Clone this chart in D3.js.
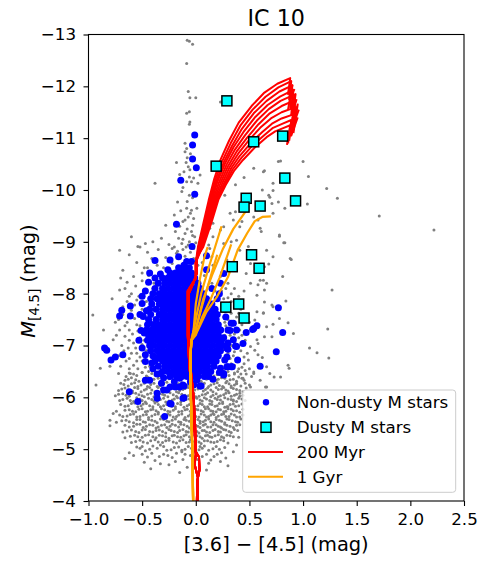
<!DOCTYPE html>
<html>
<head>
<meta charset="utf-8">
<script src="https://cdn.jsdelivr.net/npm/d3@7"></script>
<style>
body { margin: 0; background: #fff; }
text { font-family: "DejaVu Sans", sans-serif; }
</style>
</head>
<body>
<svg id="chart"></svg>
<script>
// axis ticks
var xTicks = [-1.0, -0.5, 0.0, 0.5, 1.0, 1.5, 2.0, 2.5];
var yTicks = [-13, -12, -11, -10, -9, -8, -7, -6, -5, -4];

// all sources, gray dots: [color, M4.5]
var grayPlume = [
  [-0.08,-12.89],[-0.06,-12.87],[-0.03,-12.81],[-0.085,-12.44],[-0.07,-11.9],[-0.055,-11.78],[0.0,-11.78],
  [-0.085,-11.48],[-0.06,-11.51],[-0.055,-11.31],[-0.06,-11.27],[-0.1,-10.9],[-0.085,-10.8],[-0.1,-10.74],
  [-0.18,-10.53],[-0.09,-10.53],[-0.07,-10.45],[-0.11,-10.35],[-0.055,-10.39],[-0.02,-10.23],[0.04,-10.29],
  [-0.38,-10.13],[-0.085,-10.16],[-0.04,-10.16],[0.02,-10.13],[-0.13,-9.97],[-0.06,-9.9],[-0.17,-9.77],
  [-0.2,-9.52],[-0.085,-9.65],[-0.04,-9.61],[0.01,-9.65],[-0.02,-9.45],[-0.07,-9.48],[-0.12,-9.39],
  [-0.28,-9.32],[-0.19,-9.2],[-0.1,-9.16],[-0.04,-9.2],[-0.01,-9.1],[-0.16,-9.07],[-0.32,-9.07],
  [-0.13,-8.97],[-0.07,-8.94],[-0.22,-8.87],[-0.02,-8.87],[0.13,-8.87],[-0.71,-8.84],
  [-0.15,-9.3],[-0.08,-9.25],[-0.03,-9.32],[-0.12,-9.05],[-0.06,-9.0],[0.0,-8.98],[-0.17,-8.82],
  [-0.09,-8.9],[-0.03,-9.12],[-0.1,-9.42],[-0.05,-9.55],[-0.14,-9.6],[-0.08,-9.78],[-0.03,-9.85],
  [-0.12,-10.05],[-0.06,-10.25],[-0.15,-10.3],[-0.08,-10.62],[-0.05,-10.7],[0.23,-11.7]
];

var grayRight = [
  [0.77,-10.55],[0.79,-10.56],[0.54,-10.42],[0.63,-10.35],[0.45,-10.24],[1.05,-10.26],[0.72,-10.13],
  [0.37,-10.1],[0.62,-10.0],[0.72,-9.99],[0.27,-9.9],[0.68,-9.9],[0.69,-9.86],[0.77,-9.77],[0.83,-9.65],
  [1.04,-9.73],[0.32,-9.55],[0.37,-9.58],[0.54,-9.48],[0.72,-9.55],[0.35,-9.42],[0.43,-9.39],[0.58,-9.42],
  [0.16,-9.36],[0.26,-9.29],[0.41,-9.29],[0.6,-9.26],[0.61,-9.2],[0.78,-9.13],[0.13,-9.26],[0.23,-9.23],
  [0.33,-9.0],[0.49,-8.91],[0.83,-8.98],[0.88,-8.68],[0.41,-8.84],[0.66,-8.84],[1.0,-10.55],[0.64,-10.37],
  [1.22,-10.03],[1.32,-9.84],[0.71,-9.74],[1.71,-9.5],[2.22,-9.23],[0.78,-9.11],[0.82,-8.98],[0.89,-8.66],
  [0.72,-8.71],[0.68,-8.57],[0.81,-8.33],[1.27,-8.07],[0.84,-7.86],[0.58,-8.17],[0.63,-8.26],[0.66,-8.2],
  [0.64,-7.84],[0.71,-7.78],[0.57,-7.65],[0.63,-7.62],[0.78,-7.52],[0.86,-7.44],[0.72,-7.41],[0.91,-7.23],
  [1.23,-7.32],[0.64,-7.17],[0.58,-7.04],[1.06,-6.95],[1.13,-6.86],[1.24,-6.76],[0.55,-6.91],[0.62,-6.77],
  [0.86,-6.62],[0.87,-6.56],[0.69,-6.46],[0.73,-6.39],[0.79,-6.39],[0.65,-6.2],[0.54,-6.49],
  [0.1,-9.32],[0.16,-9.1],[0.26,-8.97],[0.15,-8.71],[0.29,-8.65],[0.38,-9.03],[0.51,-8.58],[0.64,-8.52],
  [0.12,-8.94],[0.16,-8.55],[0.23,-8.33],[0.47,-8.39],[0.51,-8.2],[0.6,-8.26],[0.64,-8.07],[0.57,-7.97],
  [0.72,-7.75],[0.63,-7.63],[0.55,-7.49],[0.66,-7.36],[0.71,-7.17],[0.57,-7.11],[0.51,-6.98],[0.58,-6.82],
  [0.49,-6.72],[0.66,-6.59],[0.54,-6.46],[0.44,-6.37],[0.38,-6.27],[0.6,-6.33],[0.51,-6.2],[0.66,-6.2],
  [0.26,-7.9],[0.33,-7.85],[0.4,-7.95],[0.45,-8.05],[0.36,-8.1],[0.3,-8.2],[0.42,-7.7],[0.48,-7.6],
  [0.38,-7.55],[0.43,-7.4],[0.5,-7.45],[0.4,-7.15],[0.46,-7.1],[0.36,-7.05],[0.42,-6.9],[0.48,-6.85],
  [0.35,-6.8],[0.45,-6.65],[0.4,-6.55],[0.5,-6.55],[0.52,-6.4],[0.47,-6.45],[0.33,-6.65],[0.36,-6.45],[0.27,-6.55],
  [0.28,-8.1],[0.33,-8.0],[0.24,-8.05],[0.3,-7.92],[0.36,-7.78],[0.29,-7.75],[0.33,-7.62],[0.4,-7.62],
  [0.26,-7.55],[0.36,-7.45],[0.27,-7.45],[0.41,-7.3],[0.27,-7.2],[0.36,-7.22],[0.43,-7.2],[0.25,-7.1],
  [0.33,-7.0],[0.4,-7.0],[0.26,-6.92],[0.36,-6.88],[0.45,-6.78],[0.32,-6.75],[0.4,-6.7],[0.36,-6.62],
  [0.43,-6.58],[0.3,-6.5],[0.46,-6.52]
];

var grayLeft = [
  [-0.62,-8.75],[-0.55,-8.6],[-0.48,-8.5],[-0.41,-8.68],[-0.36,-8.55],[-0.32,-8.42],[-0.58,-8.33],
  [-0.5,-8.25],[-0.44,-8.35],[-0.39,-8.2],[-0.66,-8.1],[-0.71,-8.07],[-0.6,-8.0],[-0.53,-7.95],[-0.47,-8.08],
  [-0.64,-7.85],[-0.57,-7.78],[-0.5,-7.7],[-0.68,-7.6],[-0.75,-7.45],[-0.55,-7.4],[-0.62,-7.3],[-0.71,-7.3],
  [-0.66,-7.18],[-0.77,-7.11],[-0.58,-7.05],[-0.52,-7.15],[-0.63,-6.95],[-0.55,-6.85],[-0.72,-6.8],
  [-0.65,-6.7],[-0.58,-6.62],[-0.5,-6.7],[-0.47,-6.58],[-0.72,-6.46],[-0.61,-6.46],[-0.8,-6.6],[-0.85,-6.9],
  [-0.89,-6.56],[-0.93,-6.24],[-0.96,-7.59],[-0.8,-5.56],[-0.86,-7.3],[-0.78,-7.9],[-0.68,-8.45],
  [-0.45,-8.8],[-0.52,-8.9],[-0.47,-8.97],[-0.54,-8.91],[-0.6,-9.1],[-0.4,-9.0],[-0.35,-8.85],[-0.25,-8.95],
  [-0.3,-8.5],[-0.22,-8.58],[-0.15,-8.52],[-0.05,-8.48],[0.02,-8.55],[-0.28,-8.7],[-0.18,-8.78],[-0.1,-8.72],
  [-0.02,-8.68],[0.06,-8.6],[-0.12,-8.85],[-0.05,-8.8],[0.05,-8.9],[-0.2,-8.9],[0.08,-8.35],[0.12,-8.5],
  [0.15,-8.2],[0.18,-8.05],[0.22,-7.95],[0.25,-7.8],[0.27,-7.65],[0.3,-7.5],[0.28,-7.38],[0.32,-7.2],
  [0.3,-7.05],[0.3,-6.85],[0.27,-6.7],[0.24,-6.6],[-0.4,-8.1],[-0.46,-7.85],[-0.48,-7.6],[-0.5,-7.3],
  [-0.48,-7.1],[-0.46,-6.9],[-0.43,-6.6],[-0.38,-6.5],
  [-0.7,-8.3],[-0.64,-8.22],[-0.56,-8.15],[-0.5,-8.4],[-0.45,-8.5],[-0.62,-7.95],[-0.55,-7.88],[-0.68,-7.75],
  [-0.6,-7.68],[-0.53,-7.6],[-0.72,-7.5],[-0.64,-7.45],[-0.57,-7.52],[-0.52,-7.38],[-0.66,-7.38],[-0.59,-7.22],
  [-0.74,-7.2],[-0.54,-7.28],[-0.62,-7.1],[-0.69,-7.0],[-0.56,-6.95],[-0.5,-7.02],[-0.6,-6.85],[-0.67,-6.9],
  [-0.52,-6.78],[-0.62,-6.75],[-0.55,-6.7],[-0.7,-6.6],[-0.62,-6.55],[-0.54,-6.55],[-0.48,-6.82],[-0.5,-6.48]
];

var grayCore = [
  [-0.62,-6.47],[-0.55,-6.42],[-0.5,-6.48],[-0.46,-6.41],[-0.41,-6.46],[0.2,-6.44],[0.25,-6.48],[0.31,-6.42],
  [0.36,-6.47],[0.42,-6.45],[-0.38,-6.43],[0.17,-6.41],
  [-0.66,-6.33],[-0.6,-6.38],[-0.53,-6.31],[-0.48,-6.36],[-0.42,-6.32],[-0.35,-6.37],[-0.29,-6.34],[-0.21,-6.31],
  [-0.17,-6.38],[0.05,-6.31],[0.14,-6.36],[0.19,-6.33],[0.24,-6.38],[0.29,-6.31],[0.35,-6.35],[0.4,-6.39],[0.45,-6.33],
  [-0.7,-6.27],[-0.63,-6.22],[-0.57,-6.28],[-0.51,-6.24],[-0.45,-6.21],[-0.39,-6.27],[-0.33,-6.23],[-0.27,-6.29],
  [-0.23,-6.22],[-0.16,-6.26],[-0.09,-6.22],[-0.05,-6.28],[0.0,-6.24],[0.08,-6.27],[0.12,-6.21],[0.17,-6.26],
  [0.22,-6.23],[0.28,-6.28],[0.33,-6.22],[0.38,-6.26],[0.5,-6.24],
  [-0.72,-6.13],[-0.66,-6.18],[-0.59,-6.12],[-0.54,-6.17],[-0.48,-6.14],[-0.43,-6.19],[-0.38,-6.11],[-0.32,-6.16],
  [-0.26,-6.12],[-0.21,-6.18],[-0.15,-6.13],[-0.1,-6.17],[-0.04,-6.11],[0.02,-6.16],[0.07,-6.12],[0.11,-6.18],
  [0.16,-6.11],[0.21,-6.15],[0.26,-6.19],[0.3,-6.12],[0.35,-6.17],[0.41,-6.13],[0.47,-6.18],
  [-0.75,-6.03],[-0.68,-6.07],[-0.62,-6.02],[-0.56,-6.08],[-0.5,-6.03],[-0.45,-6.06],[-0.39,-6.01],[-0.34,-6.07],
  [-0.29,-6.04],[-0.24,-6.09],[-0.18,-6.02],[-0.13,-6.06],[-0.07,-6.03],[-0.02,-6.08],[0.03,-6.02],[0.09,-6.06],
  [0.14,-6.01],[0.19,-6.07],[0.23,-6.03],[0.28,-6.08],[0.33,-6.02],[0.38,-6.06],[0.44,-6.04],
  [-0.71,-5.94],[-0.64,-5.98],[-0.58,-5.92],[-0.52,-5.97],[-0.47,-5.91],[-0.41,-5.96],[-0.36,-5.92],[-0.3,-5.98],
  [-0.25,-5.93],[-0.2,-5.97],[-0.14,-5.91],[-0.09,-5.96],[-0.04,-5.92],[0.01,-5.98],[0.06,-5.93],[0.1,-5.97],
  [0.15,-5.92],[0.2,-5.96],[0.25,-5.91],[0.3,-5.97],[0.35,-5.93],[0.4,-5.98],[0.46,-5.94],
  [-0.66,-5.83],[-0.6,-5.88],[-0.54,-5.82],[-0.49,-5.87],[-0.43,-5.84],[-0.38,-5.89],[-0.33,-5.82],[-0.27,-5.86],
  [-0.22,-5.83],[-0.17,-5.88],[-0.11,-5.81],[-0.06,-5.86],[-0.01,-5.83],[0.04,-5.88],[0.08,-5.82],[0.13,-5.87],
  [0.18,-5.83],[0.22,-5.88],[0.27,-5.81],[0.32,-5.86],[0.37,-5.83],[0.43,-5.87],
  [-0.74,-5.73],[-0.62,-5.76],[-0.56,-5.72],[-0.5,-5.78],[-0.45,-5.73],[-0.4,-5.77],[-0.35,-5.71],[-0.29,-5.76],
  [-0.24,-5.72],[-0.19,-5.78],[-0.13,-5.73],[-0.08,-5.77],[-0.03,-5.71],[0.02,-5.76],[0.07,-5.72],[0.12,-5.78],
  [0.16,-5.73],[0.21,-5.77],[0.26,-5.72],[0.3,-5.78],[0.35,-5.74],[0.41,-5.71],
  [-0.77,-5.69],[-0.68,-5.63],[-0.61,-5.67],[-0.55,-5.62],[-0.49,-5.66],[-0.44,-5.61],[-0.38,-5.67],[-0.32,-5.63],
  [-0.26,-5.68],[-0.21,-5.62],[-0.16,-5.66],[-0.1,-5.61],[-0.05,-5.67],[0.0,-5.63],[0.05,-5.68],[0.1,-5.62],
  [0.14,-5.66],[0.19,-5.61],[0.24,-5.67],[0.28,-5.63],[0.33,-5.68],[0.38,-5.62],[0.44,-5.66],
  [-0.74,-5.52],[-0.65,-5.56],[-0.58,-5.51],[-0.52,-5.57],[-0.47,-5.52],[-0.41,-5.56],[-0.36,-5.51],[-0.3,-5.57],
  [-0.25,-5.53],[-0.19,-5.58],[-0.14,-5.52],[-0.09,-5.56],[-0.03,-5.51],[0.02,-5.57],[0.07,-5.53],[0.12,-5.58],
  [0.17,-5.52],[0.22,-5.56],[0.27,-5.51],[0.31,-5.57],[0.37,-5.53],[0.42,-5.58],
  [-0.8,-5.45],[-0.62,-5.43],[-0.55,-5.48],[-0.49,-5.42],[-0.43,-5.47],[-0.37,-5.41],[-0.32,-5.46],[-0.27,-5.42],
  [-0.22,-5.48],[-0.16,-5.43],[-0.11,-5.47],[-0.06,-5.41],[0.0,-5.46],[0.04,-5.42],[0.09,-5.48],[0.14,-5.43],
  [0.19,-5.47],[0.24,-5.41],[0.29,-5.46],[0.35,-5.42],[0.41,-5.47],
  [-0.68,-5.33],[-0.6,-5.37],[-0.53,-5.32],[-0.47,-5.38],[-0.4,-5.33],[-0.34,-5.37],[-0.28,-5.31],[-0.23,-5.36],
  [-0.17,-5.32],[-0.12,-5.38],[-0.07,-5.33],[-0.02,-5.37],[0.03,-5.31],[0.08,-5.36],[0.13,-5.32],[0.18,-5.38],
  [0.23,-5.33],[0.28,-5.37],[0.33,-5.32],[0.39,-5.36],
  [-0.66,-5.22],[-0.57,-5.27],[-0.5,-5.23],[-0.44,-5.28],[-0.37,-5.22],[-0.31,-5.26],[-0.25,-5.21],[-0.2,-5.27],
  [-0.14,-5.23],[-0.09,-5.28],[-0.04,-5.22],[0.01,-5.26],[0.06,-5.21],[0.11,-5.27],[0.15,-5.23],[0.21,-5.28],
  [0.26,-5.22],[0.32,-5.26],[0.4,-5.23],
  [-0.6,-5.13],[-0.52,-5.17],[-0.45,-5.12],[-0.38,-5.18],[-0.31,-5.13],[-0.25,-5.17],[-0.18,-5.12],[-0.12,-5.18],
  [-0.06,-5.14],[0.0,-5.17],[0.05,-5.11],[0.11,-5.16],[0.17,-5.13],[0.23,-5.18],[0.3,-5.12],[0.38,-5.08],
  [-0.55,-5.04],[-0.47,-4.97],[-0.4,-5.06],[-0.33,-5.08],[-0.27,-4.98],[-0.2,-5.03],[-0.13,-4.95],[-0.07,-5.05],
  [0.03,-4.99],[0.08,-5.06],[0.16,-5.01],[0.22,-5.0],[-0.52,-5.02],
  [-0.66,-4.82],[-0.58,-4.88],[-0.45,-4.85],[-0.38,-4.78],[-0.3,-4.9],[-0.22,-4.84],[-0.12,-4.8],[-0.05,-4.88],
  [0.06,-4.86],[0.14,-4.79],[0.2,-4.9],[0.28,-4.83],[-0.25,-4.7],[-0.02,-4.72],[0.1,-4.6],[-0.42,-4.62],
  [0.35,-4.95],[-0.15,-4.55],
  [0.41,-6.08],[0.35,-5.95],[0.29,-5.82],[0.16,-5.69],[0.04,-5.5],[0.23,-5.43],[-0.05,-5.18],[0.04,-5.05],[-0.13,-4.98]
];

var grayCore2 = [
  [-0.58,-6.45],[-0.44,-6.5],[0.22,-6.5],[0.28,-6.45],[0.39,-6.5],[-0.65,-6.4],
  [-0.63,-6.35],[-0.56,-6.34],[-0.45,-6.39],[-0.39,-6.35],[-0.32,-6.4],[-0.25,-6.36],[0.1,-6.35],[0.17,-6.39],
  [0.21,-6.35],[0.27,-6.37],[0.32,-6.34],[0.38,-6.31],[0.43,-6.37],
  [-0.67,-6.25],[-0.6,-6.26],[-0.54,-6.21],[-0.48,-6.27],[-0.42,-6.25],[-0.36,-6.21],[-0.3,-6.26],[-0.2,-6.25],
  [-0.13,-6.28],[-0.07,-6.25],[0.03,-6.21],[0.06,-6.26],[0.14,-6.24],[0.2,-6.28],[0.25,-6.21],[0.31,-6.26],
  [0.36,-6.24],[0.42,-6.22],[0.46,-6.27],
  [-0.69,-6.16],[-0.63,-6.14],[-0.57,-6.19],[-0.51,-6.11],[-0.46,-6.16],[-0.41,-6.14],[-0.35,-6.19],[-0.29,-6.14],
  [-0.24,-6.16],[-0.18,-6.11],[-0.12,-6.15],[-0.07,-6.19],[-0.01,-6.14],[0.04,-6.18],[0.09,-6.15],[0.14,-6.14],
  [0.19,-6.19],[0.24,-6.16],[0.28,-6.14],[0.33,-6.19],[0.38,-6.15],[0.44,-6.11],
  [-0.72,-6.06],[-0.65,-6.04],[-0.59,-6.09],[-0.53,-6.05],[-0.48,-6.01],[-0.42,-6.08],[-0.37,-6.04],[-0.31,-6.06],
  [-0.26,-6.01],[-0.21,-6.05],[-0.16,-6.09],[-0.1,-6.04],[-0.05,-6.06],[0.0,-6.01],[0.06,-6.05],[0.11,-6.09],
  [0.16,-6.04],[0.21,-6.01],[0.26,-6.05],[0.31,-6.09],[0.36,-6.04],[0.41,-6.02],
  [-0.68,-5.96],[-0.61,-5.94],[-0.55,-5.99],[-0.5,-5.94],[-0.44,-5.98],[-0.39,-5.93],[-0.33,-5.96],[-0.28,-5.91],
  [-0.22,-5.95],[-0.17,-5.99],[-0.11,-5.94],[-0.06,-5.97],[-0.02,-5.91],[0.04,-5.95],[0.08,-5.99],[0.13,-5.94],
  [0.18,-5.98],[0.23,-5.95],[0.27,-5.99],[0.33,-5.96],[0.38,-5.92],[0.43,-5.97],
  [-0.7,-5.86],[-0.63,-5.84],[-0.57,-5.89],[-0.51,-5.84],[-0.46,-5.88],[-0.4,-5.82],[-0.35,-5.86],[-0.3,-5.84],
  [-0.24,-5.88],[-0.19,-5.82],[-0.14,-5.86],[-0.08,-5.84],[-0.03,-5.88],[0.02,-5.84],[0.06,-5.86],[0.11,-5.82],
  [0.15,-5.86],[0.2,-5.84],[0.25,-5.88],[0.3,-5.82],[0.35,-5.87],[0.4,-5.84],
  [-0.66,-5.75],[-0.59,-5.73],[-0.53,-5.77],[-0.47,-5.72],[-0.42,-5.76],[-0.37,-5.74],[-0.32,-5.78],[-0.26,-5.73],
  [-0.21,-5.75],[-0.16,-5.72],[-0.1,-5.76],[-0.05,-5.73],[0.0,-5.77],[0.05,-5.74],[0.09,-5.78],[0.14,-5.74],
  [0.19,-5.72],[0.23,-5.76],[0.28,-5.73],[0.33,-5.77],[0.38,-5.74],[0.44,-5.77],
  [-0.71,-5.66],[-0.64,-5.64],[-0.58,-5.68],[-0.52,-5.63],[-0.46,-5.67],[-0.41,-5.64],[-0.35,-5.68],[-0.29,-5.62],
  [-0.24,-5.66],[-0.18,-5.63],[-0.13,-5.68],[-0.07,-5.64],[-0.02,-5.66],[0.03,-5.62],[0.08,-5.66],[0.12,-5.63],
  [0.17,-5.67],[0.21,-5.64],[0.26,-5.68],[0.31,-5.63],[0.36,-5.66],[0.41,-5.62],
  [-0.69,-5.55],[-0.62,-5.53],[-0.55,-5.57],[-0.49,-5.53],[-0.44,-5.57],[-0.38,-5.54],[-0.33,-5.58],[-0.27,-5.54],
  [-0.22,-5.56],[-0.16,-5.53],[-0.11,-5.57],[-0.06,-5.54],[-0.01,-5.58],[0.04,-5.54],[0.09,-5.56],[0.14,-5.53],
  [0.19,-5.57],[0.24,-5.54],[0.29,-5.58],[0.34,-5.55],[0.39,-5.52],
  [-0.66,-5.46],[-0.58,-5.44],[-0.52,-5.48],[-0.46,-5.44],[-0.4,-5.46],[-0.35,-5.43],[-0.29,-5.47],[-0.24,-5.44],
  [-0.19,-5.46],[-0.14,-5.48],[-0.08,-5.44],[-0.03,-5.47],[0.02,-5.44],[0.07,-5.46],[0.11,-5.43],[0.16,-5.47],
  [0.21,-5.44],[0.27,-5.48],[0.32,-5.44],[0.38,-5.46],
  [-0.64,-5.35],[-0.56,-5.34],[-0.5,-5.37],[-0.43,-5.34],[-0.37,-5.36],[-0.31,-5.34],[-0.25,-5.38],[-0.2,-5.34],
  [-0.15,-5.36],[-0.09,-5.34],[-0.04,-5.37],[0.01,-5.34],[0.06,-5.36],[0.1,-5.33],[0.16,-5.36],[0.21,-5.34],
  [0.26,-5.38],[0.31,-5.34],[0.36,-5.38],
  [-0.61,-5.25],[-0.54,-5.24],[-0.47,-5.27],[-0.4,-5.24],[-0.34,-5.27],[-0.28,-5.24],[-0.22,-5.26],[-0.17,-5.24],
  [-0.11,-5.26],[-0.06,-5.24],[-0.01,-5.27],[0.04,-5.24],[0.09,-5.26],[0.13,-5.24],[0.18,-5.26],[0.24,-5.24],
  [0.29,-5.27],[0.35,-5.24],
  [-0.56,-5.15],[-0.49,-5.14],[-0.42,-5.16],[-0.35,-5.14],[-0.28,-5.16],[-0.21,-5.14],[-0.15,-5.16],[-0.09,-5.13],
  [-0.03,-5.15],[0.03,-5.14],[0.08,-5.16],[0.14,-5.14],[0.2,-5.15],[0.26,-5.16],
  [-0.5,-5.05],[-0.43,-5.0],[-0.36,-5.02],[-0.3,-5.05],[-0.23,-4.99],[-0.16,-5.04],[-0.1,-5.0],[-0.04,-5.02],
  [0.0,-4.96],[0.06,-5.02],[0.12,-4.98],[0.19,-5.05],[0.27,-5.03],
  [-0.62,-4.93],[-0.5,-4.9],[-0.41,-4.92],[-0.34,-4.86],[-0.26,-4.88],[-0.18,-4.92],[-0.1,-4.9],[0.0,-4.93],
  [0.1,-4.9],[0.17,-4.86],[0.24,-4.93],[-0.48,-4.75],[-0.33,-4.72],[-0.19,-4.76],[0.02,-4.8],[0.12,-4.73],
  [0.23,-4.76],[-0.08,-4.65],[0.3,-4.68]
];

// non-dusty M stars, dense core given as rows: [M4.5, colours...]
var blueCoreRows = [
  [-8.5, -0.16,-0.11,-0.06],
  [-8.4, -0.24,-0.19,-0.14,-0.09,-0.04],
  [-8.3, -0.31,-0.26,-0.21,-0.16,-0.11,-0.06,-0.01],
  [-8.2, -0.35,-0.29,-0.24,-0.19,-0.14,-0.09,-0.04,0.02],
  [-8.1, -0.38,-0.31,-0.26,-0.21,-0.16,-0.11,-0.06,-0.01,0.04],
  [-8.0, -0.40,-0.34,-0.29,-0.24,-0.19,-0.14,-0.09,-0.04,0.01,0.07],
  [-7.9, -0.42,-0.36,-0.31,-0.26,-0.21,-0.16,-0.11,-0.06,-0.01,0.04,0.1],
  [-7.8, -0.41,-0.34,-0.29,-0.24,-0.19,-0.14,-0.09,-0.04,0.01,0.06,0.11,0.15],
  [-7.7, -0.43,-0.37,-0.31,-0.26,-0.21,-0.16,-0.11,-0.06,-0.01,0.04,0.09,0.14,0.18],
  [-7.6, -0.42,-0.34,-0.29,-0.24,-0.19,-0.14,-0.09,-0.04,0.01,0.06,0.11,0.16,0.2],
  [-7.5, -0.44,-0.37,-0.31,-0.26,-0.21,-0.16,-0.11,-0.06,-0.01,0.04,0.09,0.14,0.19],
  [-7.4, -0.45,-0.39,-0.34,-0.29,-0.24,-0.19,-0.14,-0.09,-0.04,0.01,0.06,0.11,0.16,0.21],
  [-7.3, -0.46,-0.41,-0.36,-0.31,-0.26,-0.21,-0.16,-0.11,-0.06,-0.01,0.04,0.09,0.14,0.19,0.23],
  [-7.2, -0.44,-0.39,-0.34,-0.29,-0.24,-0.19,-0.14,-0.09,-0.04,0.01,0.06,0.11,0.16,0.21],
  [-7.1, -0.45,-0.41,-0.36,-0.31,-0.26,-0.21,-0.16,-0.11,-0.06,-0.01,0.04,0.09,0.14,0.19,0.24],
  [-7.0, -0.43,-0.39,-0.34,-0.29,-0.24,-0.19,-0.14,-0.09,-0.04,0.01,0.06,0.11,0.16,0.21,0.25],
  [-6.9, -0.42,-0.36,-0.31,-0.26,-0.21,-0.16,-0.11,-0.06,-0.01,0.04,0.09,0.14,0.19,0.23],
  [-6.8, -0.40,-0.34,-0.29,-0.24,-0.19,-0.14,-0.09,-0.04,0.01,0.06,0.11,0.16,0.21],
  [-6.7, -0.38,-0.31,-0.26,-0.21,-0.16,-0.11,-0.06,-0.01,0.04,0.09,0.14,0.19],
  [-6.6, -0.35,-0.29,-0.24,-0.19,-0.14,-0.09,-0.04,0.01,0.06,0.11,0.17],
  [-6.5, -0.31,-0.26,-0.21,-0.16,-0.11,-0.06,-0.01,0.04,0.09,0.14],
  [-6.4, -0.24,-0.18,-0.13,-0.08,-0.03,0.02,0.08]
];

var blueStars = [
  [-0.01,-11.06],[-0.03,-10.87],[-0.03,-10.6],[0.005,-10.43],[-0.14,-10.19],[-0.01,-9.92],[-0.18,-9.34],
  [-0.035,-8.91],[-0.38,-8.64],[-0.24,-8.65],[-0.16,-8.71],[-0.085,-8.62],[-0.04,-8.62],[0.1,-8.73],
  [-0.11,-8.55],[-0.43,-8.4],[-0.26,-8.46],[-0.15,-8.42],[0.1,-8.46],[0.26,-8.39],
  [-0.85,-6.95],[-0.83,-6.91],[-0.79,-6.72],[-0.75,-6.78],[-0.68,-6.82],[-0.69,-7.68],[-0.61,-7.76],
  [-0.71,-7.57],[-0.61,-7.57],[-0.5,-7.81],[-0.46,-7.67],[-0.49,-7.56],[-0.43,-7.43],[-0.51,-7.29],
  [-0.48,-7.24],[-0.41,-7.25],[-0.43,-7.11],[-0.47,-6.69],[-0.41,-6.66],[-0.36,-6.75],
  [-0.62,-6.11],[-0.54,-5.92],[-0.47,-6.33],[-0.43,-6.33],[-0.36,-6.08],[-0.36,-5.98],[-0.29,-5.63],
  [-0.24,-5.88],[-0.27,-6.14],[-0.15,-6.2],[-0.02,-6.24],[-0.32,-6.27],[-0.24,-6.2],[-0.33,-6.46],
  [-0.3,-6.14],[-0.22,-6.45],[-0.19,-6.2],[-0.23,-5.87],[-0.12,-5.98],[-0.12,-6.24],[-0.15,-6.37],
  [-0.01,-6.43],[0.01,-6.33],[0.05,-6.22],[0.1,-6.46],[0.12,-6.4],[0.26,-6.43],[0.04,-6.22],[-0.11,-6.22],[-0.11,-5.99],
  [0.29,-6.78],[0.29,-6.59],[0.33,-6.59],[0.26,-6.46],[0.38,-6.98],[0.29,-6.95],[0.35,-7.11],[0.3,-7.3],
  [0.38,-7.3],[0.33,-7.43],[0.44,-7.04],[0.54,-7.33],[0.6,-6.6],[0.75,-6.88],[0.77,-7.73],[0.81,-7.25],
  [0.57,-7.38],[0.53,-7.31],[0.47,-7.25],[0.32,-7.29],[0.37,-6.99],[0.3,-6.93],[0.39,-6.72],[0.3,-6.59],
  [0.34,-6.59],[0.23,-6.56],[0.35,-7.43],[0.23,-7.3],[0.23,-8.2],[0.15,-8.1],[0.2,-7.9],
  [-0.47,-8.05],[-0.44,-8.22],[-0.38,-8.3],[-0.33,-8.38],[-0.5,-7.95],[-0.52,-7.6],[-0.53,-7.1],[-0.5,-6.95],
  [-0.47,-6.82],[-0.4,-6.55],[-0.36,-6.45],[0.28,-7.55],[0.27,-7.7],[0.22,-8.0],[0.26,-7.15],[0.3,-7.05],
  [0.27,-6.72],[0.22,-6.48],[0.16,-6.35],[-0.05,-6.3],[-0.2,-6.3],[-0.3,-6.38]
];

// dusty M stars
var dustyStars = [
  [0.29,-11.72],[0.54,-10.93],[0.81,-11.04],[0.19,-10.46],[0.47,-9.84],[0.45,-9.67],[0.6,-9.69],
  [0.83,-10.23],[0.93,-9.79],[0.52,-8.75],[0.34,-8.52],[0.59,-8.49],[0.4,-7.8],[0.28,-7.74],[0.45,-7.53]
];

// 200 Myr isochrones: shared lower branch + upper tracks
var redBase = [[0.01,-4.0],[0.015,-4.4],[0.035,-4.6],[0.03,-4.85],[0.0,-4.95],[-0.01,-5.3],[-0.03,-6.0],
  [-0.06,-6.6],[-0.075,-7.2],[-0.075,-8.05],[-0.03,-8.2],[0.0,-8.3],[0.0,-8.6]];
var redBase2 = [[0.02,-4.0],[0.02,-4.45],[-0.01,-4.7],[0.0,-4.9],[-0.005,-5.4],[-0.02,-6.0],
  [-0.05,-6.6],[-0.065,-7.3],[-0.065,-8.0],[-0.02,-8.22],[0.01,-8.4],[0.01,-8.7]];
var redTracks = [
  [[0.02,-8.9],[0.075,-9.4],[0.12,-9.8],[0.17,-10.2],[0.23,-10.58],[0.31,-10.95],[0.4,-11.3],[0.52,-11.62],[0.64,-11.88],[0.76,-12.05],[0.88,-12.16],[0.86,-11.85],[0.9,-12.02],[0.86,-11.55]],
  [[0.025,-8.9],[0.085,-9.4],[0.13,-9.8],[0.18,-10.18],[0.245,-10.55],[0.325,-10.9],[0.415,-11.24],[0.53,-11.55],[0.65,-11.8],[0.77,-11.98],[0.89,-12.1],[0.87,-11.75],[0.92,-11.95]],
  [[0.03,-8.9],[0.095,-9.4],[0.14,-9.8],[0.19,-10.16],[0.26,-10.53],[0.34,-10.86],[0.43,-11.18],[0.54,-11.48],[0.66,-11.72],[0.78,-11.9],[0.9,-12.02],[0.88,-11.6],[0.93,-11.85],[0.9,-11.35]],
  [[0.035,-8.9],[0.1,-9.4],[0.15,-9.8],[0.2,-10.15],[0.27,-10.5],[0.35,-10.82],[0.445,-11.12],[0.555,-11.41],[0.67,-11.64],[0.785,-11.8],[0.91,-11.93],[0.89,-11.45],[0.94,-11.75]],
  [[0.04,-8.9],[0.11,-9.4],[0.16,-9.8],[0.215,-10.14],[0.285,-10.48],[0.365,-10.78],[0.46,-11.06],[0.57,-11.34],[0.68,-11.56],[0.79,-11.72],[0.92,-11.84],[0.9,-11.3],[0.95,-11.65],[0.91,-11.1]],
  [[0.045,-8.9],[0.12,-9.4],[0.17,-9.8],[0.23,-10.13],[0.3,-10.46],[0.38,-10.74],[0.475,-11.0],[0.585,-11.27],[0.69,-11.48],[0.8,-11.62],[0.93,-11.74],[0.9,-11.2],[0.96,-11.55]],
  [[0.05,-8.9],[0.13,-9.4],[0.18,-9.8],[0.245,-10.12],[0.315,-10.44],[0.395,-10.7],[0.49,-10.95],[0.6,-11.2],[0.7,-11.38],[0.8,-11.5],[0.93,-11.6],[0.89,-11.05],[0.95,-11.4]],
  [[0.055,-8.9],[0.135,-9.4],[0.19,-9.8],[0.26,-10.11],[0.33,-10.42],[0.41,-10.66],[0.51,-10.9],[0.62,-11.12],[0.71,-11.28],[0.8,-11.38],[0.91,-11.46],[0.87,-10.95]],
  [[0.06,-8.9],[0.14,-9.4],[0.2,-9.8],[0.27,-10.1],[0.345,-10.4],[0.425,-10.62],[0.53,-10.86],[0.64,-11.06],[0.72,-11.2],[0.81,-11.28],[0.89,-11.35],[0.86,-10.9]],
  [[0.07,-8.9],[0.15,-9.4],[0.21,-9.81],[0.28,-10.1],[0.36,-10.38],[0.44,-10.58],[0.55,-10.82],[0.66,-11.02],[0.74,-11.13],[0.82,-11.2],[0.88,-11.25],[0.85,-10.87]]
];

// 1 Gyr isochrones
var orangeBase = [[-0.025,-4.0],[-0.03,-4.8],[-0.04,-5.6],[-0.05,-6.3],[-0.05,-6.8],[-0.04,-7.1]];
var orangeTracks = [
  [[0.0,-7.5],[0.05,-8.0],[0.12,-8.5],[0.18,-8.9],[0.24,-9.3]],
  [[0.01,-7.4],[0.07,-7.9],[0.15,-8.35],[0.25,-8.85],[0.35,-9.25],[0.47,-9.6]],
  [[0.02,-7.3],[0.1,-7.65],[0.2,-7.95],[0.3,-8.32],[0.39,-8.84],[0.48,-9.17],[0.55,-9.4],[0.62,-9.48],[0.7,-9.49]],
  [[0.0,-7.3],[0.05,-7.7],[0.12,-8.2],[0.17,-8.55],[0.2,-8.75]],
  [[-0.02,-7.3],[0.0,-7.8],[0.04,-8.3],[0.08,-8.7],[0.11,-8.9]],
  [[0.0,-7.2],[0.06,-7.55],[0.14,-7.9],[0.22,-8.3],[0.28,-8.65],[0.33,-8.95]]
];

var legendLabels = ["Non-dusty M stars", "Dusty M stars", "200 Myr", "1 Gyr"];

var svgwidth = 479, svgheight = 561;
var plot = { left: 88.5, right: 464, top: 34.5, bottom: 501 };

var svg = d3.select("#chart")
  .attr("width", svgwidth)
  .attr("height", svgheight);

var x = d3.scaleLinear().domain([-1.0, 2.5]).range([plot.left, plot.right]);
var y = d3.scaleLinear().domain([-13, -4]).range([plot.top, plot.bottom]);

var gray = grayPlume.concat(grayRight, grayLeft, grayCore, grayCore2);
var blue = [];
blueCoreRows.forEach(function (r) {
  r.slice(1).forEach(function (c) { blue.push([c, r[0]]); });
});
blue = blue.concat(blueStars);

var g = svg.append("g");

g.selectAll("circle.gray")
  .data(gray)
  .enter()
  .append("circle")
  .attr("class", "gray")
  .attr("cx", function (d) { return x(d[0]); })
  .attr("cy", function (d) { return y(d[1]); })
  .attr("r", 1.5)
  .attr("fill", "#808080");

g.selectAll("circle.blue")
  .data(blue)
  .enter()
  .append("circle")
  .attr("class", "blue")
  .attr("cx", function (d) { return x(d[0]); })
  .attr("cy", function (d) { return y(d[1]); })
  .attr("r", 3.5)
  .attr("fill", "#0000ff");

var line = d3.line()
  .x(function (d) { return x(d[0]); })
  .y(function (d) { return y(d[1]); });

redTracks.forEach(function (t, i) {
  g.append("path")
    .attr("d", line((i % 2 ? redBase2 : redBase).concat(t)))
    .attr("fill", "none")
    .attr("stroke", "#ff0000")
    .attr("stroke-width", 2)
    .attr("stroke-linejoin", "round");
});

orangeTracks.forEach(function (t) {
  g.append("path")
    .attr("d", line(orangeBase.concat(t)))
    .attr("fill", "none")
    .attr("stroke", "#ffa500")
    .attr("stroke-width", 2.2)
    .attr("stroke-linejoin", "round");
});

g.selectAll("rect.dusty")
  .data(dustyStars)
  .enter()
  .append("rect")
  .attr("class", "dusty")
  .attr("x", function (d) { return x(d[0]) - 5; })
  .attr("y", function (d) { return y(d[1]) - 5; })
  .attr("width", 10)
  .attr("height", 10)
  .attr("fill", "#00ffff")
  .attr("stroke", "#000")
  .attr("stroke-width", 1.5);

// axes
var xAxis = svg.append("g")
  .attr("transform", "translate(0," + plot.bottom + ")")
  .call(d3.axisBottom(x).tickValues(xTicks).tickFormat(d3.format(".1f")).tickSize(5).tickPadding(7));
var yAxis = svg.append("g")
  .attr("transform", "translate(" + plot.left + ",0)")
  .call(d3.axisLeft(y).tickValues(yTicks).tickFormat(d3.format("d")).tickSize(5).tickPadding(7.5));
[xAxis, yAxis].forEach(function (a) {
  a.select(".domain").remove();
  a.selectAll("line").attr("stroke", "#000").attr("stroke-width", 1.1);
  a.selectAll("text").attr("font-size", 16.7).attr("fill", "#000")
    .style("font-family", "DejaVu Sans, sans-serif");
});

svg.append("rect")
  .attr("x", plot.left).attr("y", plot.top)
  .attr("width", plot.right - plot.left).attr("height", plot.bottom - plot.top)
  .attr("fill", "none").attr("stroke", "#000").attr("stroke-width", 1.1);

// title and labels
svg.append("text")
  .attr("x", (plot.left + plot.right) / 2).attr("y", 25.5)
  .attr("text-anchor", "middle").attr("font-size", 22.2)
  .text("IC 10");

svg.append("text")
  .attr("x", (plot.left + plot.right) / 2).attr("y", 551)
  .attr("text-anchor", "middle").attr("font-size", 19.4)
  .text("[3.6] \u2212 [4.5] (mag)");

var yl = svg.append("text")
  .attr("transform", "translate(35,281) rotate(-90)")
  .attr("text-anchor", "middle").attr("font-size", 19.4);
yl.append("tspan").attr("font-style", "italic").text("M");
yl.append("tspan").attr("font-size", 13.6).attr("dy", 4).text("[4.5]");
yl.append("tspan").attr("dy", -4).text(" (mag)");

// legend
var lg = svg.append("g");
lg.append("rect")
  .attr("x", 242.7).attr("y", 390).attr("width", 213).attr("height", 102.3)
  .attr("rx", 3).attr("fill", "#fff").attr("fill-opacity", 0.8)
  .attr("stroke", "#cccccc").attr("stroke-width", 1);
var rowY = [402.3, 427.3, 452, 476.7];
lg.append("circle").attr("cx", 266).attr("cy", rowY[0]).attr("r", 3.2).attr("fill", "#0000ff");
lg.append("rect").attr("x", 261).attr("y", rowY[1] - 5).attr("width", 10).attr("height", 10)
  .attr("fill", "#00ffff").attr("stroke", "#000").attr("stroke-width", 1.5);
lg.append("line").attr("x1", 248).attr("x2", 283).attr("y1", rowY[2]).attr("y2", rowY[2])
  .attr("stroke", "#ff0000").attr("stroke-width", 2);
lg.append("line").attr("x1", 248).attr("x2", 283).attr("y1", rowY[3]).attr("y2", rowY[3])
  .attr("stroke", "#ffa500").attr("stroke-width", 2);
lg.selectAll("text.lab")
  .data(legendLabels)
  .enter()
  .append("text")
  .attr("class", "lab")
  .attr("x", 296.7)
  .attr("y", function (d, i) { return rowY[i] + 6; })
  .attr("font-size", 16.7)
  .text(function (d) { return d; });
</script>
</body>
</html>
